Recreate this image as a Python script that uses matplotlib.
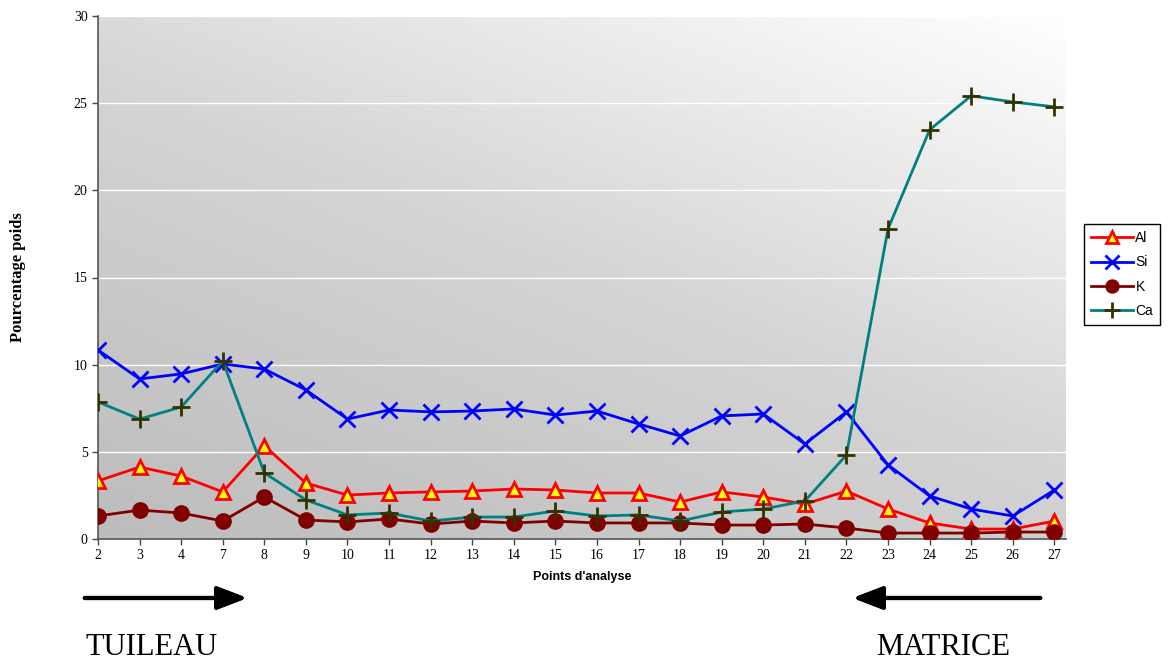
import numpy as np
import matplotlib.pyplot as plt
from matplotlib.colors import LinearSegmentedColormap

# Points d'analyse (catégories)
points = ['2', '3', '4', '7', '8', '9', '10', '11', '12', '13', '14', '15',
          '16', '17', '18', '19', '20', '21', '22', '23', '24', '25', '26', '27']

al = [3.33, 4.13, 3.61, 2.70, 5.34, 3.21, 2.52, 2.64, 2.70, 2.75, 2.87, 2.81,
      2.64, 2.64, 2.12, 2.70, 2.41, 2.00, 2.75, 1.72, 0.92, 0.57, 0.57, 1.03]
si = [10.84, 9.18, 9.47, 10.04, 9.75, 8.55, 6.88, 7.40, 7.29, 7.34, 7.46, 7.11,
      7.34, 6.60, 5.91, 7.06, 7.17, 5.45, 7.29, 4.25, 2.47, 1.72, 1.32, 2.81]
k = [1.32, 1.66, 1.49, 1.03, 2.41, 1.09, 0.98, 1.15, 0.86, 1.03, 0.92, 1.03,
     0.92, 0.92, 0.92, 0.80, 0.80, 0.86, 0.63, 0.34, 0.34, 0.34, 0.40, 0.40]
ca = [7.86, 6.88, 7.57, 10.21, 3.79, 2.24, 1.38, 1.49, 1.03, 1.26, 1.26, 1.61,
      1.32, 1.38, 1.03, 1.55, 1.72, 2.18, 4.82, 17.79, 23.47, 25.42, 25.07, 24.79]

serif = 'Liberation Serif'
sans = 'Liberation Sans'

fig = plt.figure(figsize=(11.7, 6.64), dpi=100)
ax = fig.add_axes([98 / 1170, 125 / 664, 968 / 1170, 523 / 664])

x = np.arange(len(points))
ax.set_xlim(0, len(points) - 1 + 0.28)
ax.set_ylim(0, 30)

# fond en dégradé (gris en bas à gauche -> blanc en haut à droite)
gx, gy = np.meshgrid(np.linspace(0, 1, 200), np.linspace(0, 1, 200))
grad = 0.55 * gx + 0.75 * gy
cmap = LinearSegmentedColormap.from_list('fond', ['#bcbcbc', '#d4d4d4', '#ffffff'])
ax.imshow(grad, cmap=cmap, extent=[0, 1, 0, 1], transform=ax.transAxes,
          origin='lower', aspect='auto', zorder=0)

for yv in range(5, 31, 5):
    ax.axhline(yv, color='white', linewidth=1, zorder=1)

ax.plot(x, al, color='#ff0000', linewidth=2, marker='^', markersize=10,
        markerfacecolor='#ffff00', markeredgecolor='#ff0000', markeredgewidth=2,
        label='Al', zorder=3)
ax.plot(x, si, color='#0000ff', linewidth=2, marker='x', markersize=12,
        markeredgewidth=2, label='Si', zorder=3)
ax.plot(x, k, color='#800000', linewidth=2, marker='o', markersize=11,
        markerfacecolor='#800000', markeredgecolor='#800000', label='K', zorder=3)
ax.plot(x, ca, color='#008080', linewidth=2, marker='+', markersize=13,
        markeredgecolor='#333300', markeredgewidth=2, label='Ca', zorder=3)

ax.set_xticks(x)
ax.set_xticklabels(points, fontfamily=serif, fontsize=10)
ax.set_yticks(range(0, 31, 5))
ax.set_yticklabels([str(v) for v in range(0, 31, 5)], fontfamily=serif, fontsize=10)
ax.tick_params(axis='both', direction='out', length=4, color='#444444', width=1)

for side in ['top', 'right']:
    ax.spines[side].set_visible(False)
for side in ['left', 'bottom']:
    ax.spines[side].set_color('#555555')
    ax.spines[side].set_linewidth(1.2)

ax.set_xlabel("Points d'analyse", fontfamily=sans, fontweight='bold', fontsize=9, labelpad=6)
ax.set_ylabel('Pourcentage poids', fontfamily=serif, fontweight='bold', fontsize=12, labelpad=34)

leg = fig.legend(loc='upper left', bbox_to_anchor=(1084 / 1170, 1 - 224 / 664),
                 prop={'family': sans, 'size': 10}, handlelength=3.0,
                 borderpad=0.5, labelspacing=0.75, handletextpad=0.2,
                 borderaxespad=0, fancybox=False, framealpha=1,
                 markerscale=0.85)
leg.get_frame().set_edgecolor('black')
leg.get_frame().set_linewidth(1)

# flèches et annotations
fig.add_artist(plt.annotate('', xy=(250 / 1170, 66 / 664), xytext=(82 / 1170, 66 / 664),
                            xycoords='figure fraction', textcoords='figure fraction',
                            arrowprops=dict(arrowstyle='-|>,head_length=1.3,head_width=0.5',
                                            color='black', lw=3, mutation_scale=14)))
fig.add_artist(plt.annotate('', xy=(850 / 1170, 66 / 664), xytext=(1043 / 1170, 66 / 664),
                            xycoords='figure fraction', textcoords='figure fraction',
                            arrowprops=dict(arrowstyle='-|>,head_length=1.3,head_width=0.5',
                                            color='black', lw=3, mutation_scale=14)))

fig.text(85 / 1170, 9 / 664, 'TUILEAU', fontfamily=serif, fontsize=22, va='baseline')
fig.text(876 / 1170, 9 / 664, 'MATRICE', fontfamily=serif, fontsize=22, va='baseline')

fig.savefig('out.png', dpi=100)
